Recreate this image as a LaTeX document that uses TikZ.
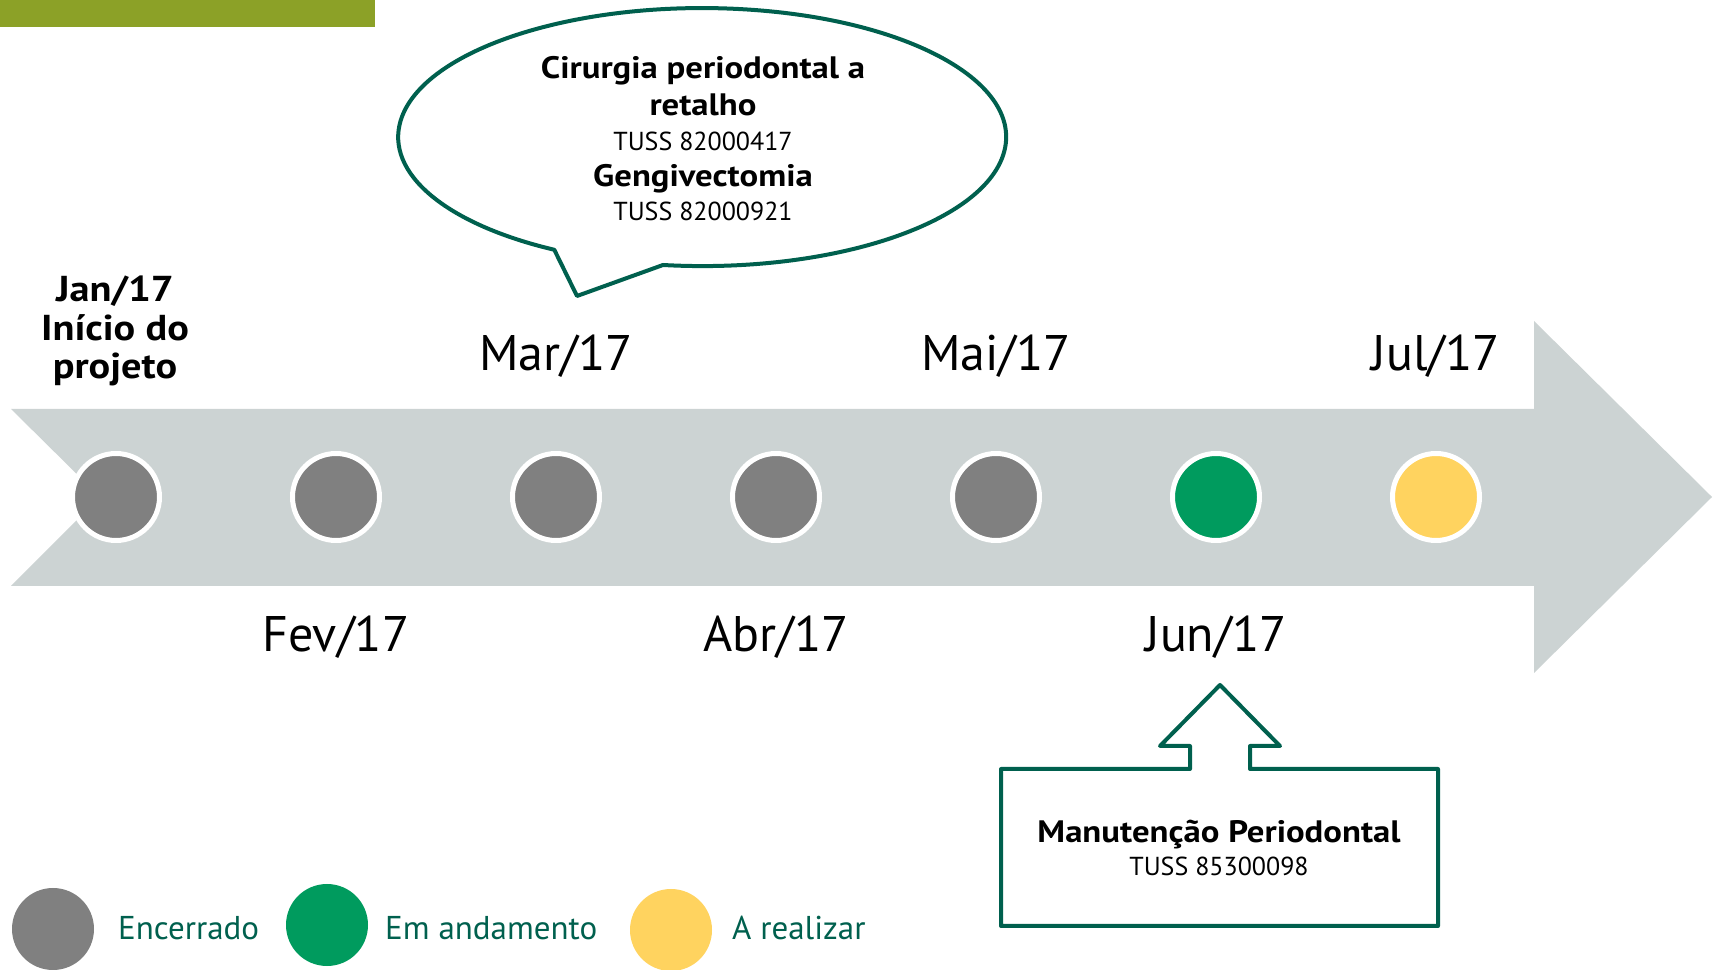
\documentclass[tikz,border=0pt]{standalone}
\usepackage{fontspec}
\setmainfont{PT Sans}[BoldFeatures={FakeStretch=1.12}]
\definecolor{olive}{RGB}{140,161,39}
\definecolor{arrowgray}{RGB}{204,211,211}
\definecolor{dotgray}{RGB}{128,128,128}
\definecolor{dotgreen}{RGB}{0,155,94}
\definecolor{dotyellow}{RGB}{255,211,95}
\definecolor{teal}{RGB}{0,96,78}
\tikzset{
  dot/.style={circle,draw=white,line width=5pt,minimum size=87pt,inner sep=0pt},
  legdot/.style={circle,minimum size=82pt,inner sep=0pt},
  month/.style={font=\fontsize{50}{60}\selectfont,anchor=base},
  janlab/.style={font=\bfseries\fontsize{36}{40}\selectfont,anchor=base},
  bold31/.style={font=\bfseries\fontsize{31}{36}\selectfont,anchor=base},
  tuss/.style={font=\fontsize{26}{32}\selectfont,anchor=base},
  legtext/.style={font=\fontsize{33}{36}\selectfont,text=teal,anchor=base west,inner sep=0pt},
  outline/.style={draw=teal,line width=4pt,line join=round,fill=white}
}
\begin{document}
\begin{tikzpicture}[x=1pt,y=1pt]
\useasboundingbox (0,0) rectangle (1713,969);
% top bar
\fill[olive] (0,942) rectangle (375,969);
% timeline arrow
\fill[arrowgray] (11,560) -- (1534,560) -- (1534,648) -- (1712,472) -- (1534,296) -- (1534,383) -- (11,383) -- (100,472) -- cycle;
% dots
\node[dot,fill=dotgray] (d1) at (116,472) {};
\node[dot,fill=dotgray] (d2) at (336,472) {};
\node[dot,fill=dotgray] (d3) at (556,472) {};
\node[dot,fill=dotgray] (d4) at (776,472) {};
\node[dot,fill=dotgray] (d5) at (996,472) {};
\node[dot,fill=dotgreen] (d6) at (1216,472) {};
\node[dot,fill=dotyellow] (d7) at (1436,472) {};
% labels
\node[janlab] (j1) at (115,667) {Jan/17};
\node[janlab] (j2) at (115,628) {Início do};
\node[janlab] (j3) at (115,590) {projeto};
\node[month] (mar) at (556,598) {Mar/17};
\node[month] (mai) at (996,598) {Mai/17};
\node[month] (jul) at (1436,598) {Jul/17};
\node[month] (fev) at (336,317) {Fev/17};
\node[month] (abr) at (776,317) {Abr/17};
\node[month] (jun) at (1216,317) {Jun/17};
% speech bubble
\draw[outline] (663,704) arc[start angle=262.6,end angle=600.9,x radius=304,y radius=129] -- (577,673) -- cycle;
\node[bold31] (b1) at (703,890) {Cirurgia periodontal a};
\node[bold31] (b2) at (703,853) {retalho};
\node[tuss] (b3) at (703,818) {TUSS 82000417};
\node[bold31] (b4) at (703,782) {Gengivectomia};
\node[tuss] (b5) at (703,748) {TUSS 82000921};
% callout box
\draw[outline] (1001,43) -- (1001,200) -- (1190,200) -- (1190,223) -- (1160,223) -- (1220,284) -- (1280,223) -- (1250,223) -- (1250,200) -- (1438,200) -- (1438,43) -- cycle;
\node[bold31] (m1) at (1219,126) {Manutenção Periodontal};
\node[tuss] (m2) at (1219,93) {TUSS 85300098};
% legend
\node[legdot,fill=dotgray] (l1) at (53,40) {};
\node[legdot,fill=dotgreen] (l2) at (327,44) {};
\node[legdot,fill=dotyellow] (l3) at (671,39) {};
\node[legtext] (t1) at (118,29) {Encerrado};
\node[legtext] (t2) at (385,29) {Em andamento};
\node[legtext] (t3) at (732,29) {A realizar};
\end{tikzpicture}
\end{document}
